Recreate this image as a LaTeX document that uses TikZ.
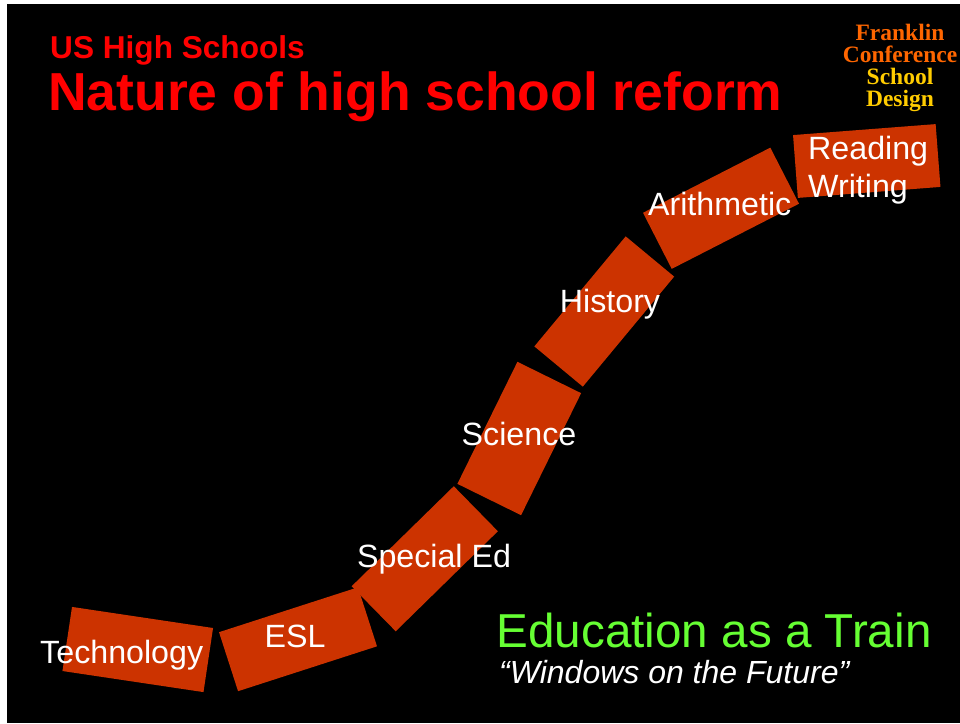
\documentclass[tikz,border=0pt]{standalone}
\usepackage{fontspec}
\setmainfont{Liberation Sans}
\newfontfamily\serifbold{Liberation Serif}
\definecolor{carred}{RGB}{204,51,0}
\definecolor{titlered}{RGB}{255,0,0}
\definecolor{frorange}{RGB}{255,102,0}
\definecolor{frgold}{RGB}{255,204,0}
\definecolor{traingreen}{RGB}{102,255,51}
\tikzset{
	car/.style={fill=carred, minimum width=143pt, minimum height=63pt, inner sep=0pt},
	carlabel/.style={text=white, font=\fontsize{32.2}{38}\selectfont, anchor=base, inner sep=0pt},
	plain/.style={anchor=base west, inner sep=0pt},
}
\begin{document}
\begin{tikzpicture}[x=1pt, y=-1pt]
	\useasboundingbox (0,0) rectangle (960,723);
	\fill [black] (7,4) rectangle (960,723);

	\node (subtitle) [plain, text=titlered, font=\bfseries\fontsize{31.6}{36}\selectfont] at (50,58) {US High Schools};
	\node (title) [plain, text=titlered, font=\bfseries\fontsize{53.5}{64}\selectfont] at (48,110) {Nature of high school reform};
	\node (franklin) [anchor=base, align=center, inner sep=0pt, font=\serifbold\bfseries\fontsize{23.5}{22}\selectfont] at (900,106) {\textcolor{frorange}{Franklin}\\\textcolor{frorange}{Conference}\\\textcolor{frgold}{School}\\\textcolor{frgold}{Design}};

	\node (tech) [car, rotate=-8.5, minimum width=142.6pt, minimum height=64.8pt] at (137.75,649.5) {};
	\node (esl) [car, rotate=17.9, minimum width=146pt, minimum height=62pt] at (298,639.25) {};
	\node (sped) [car, rotate=44.4] at (424.75,558.75) {};
	\node (sci) [car, rotate=63.8, minimum width=136pt, minimum height=71pt] at (519.25,438.5) {};
	\node (hist) [car, rotate=50.3] at (604.25,311.5) {};
	\node (arith) [car, rotate=27.1] at (721,208.25) {};
	\node (read) [car, rotate=4.4] at (866.75,161) {};

	\node (techtxt) [carlabel] at (121.7,663) {Technology};
	\node (esltxt) [carlabel] at (295,647) {ESL};
	\node (spedtxt) [carlabel] at (434,567) {Special Ed};
	\node (scitxt) [carlabel] at (519,445) {Science};
	\node (histtxt) [carlabel] at (610,312) {History};
	\node (arithtxt) [carlabel] at (719.7,215) {Arithmetic};
	\node (readtxt) [carlabel, anchor=base west, align=left] at (808,197) {Reading\\Writing};

	\node (train) [plain, text=traingreen, font=\fontsize{47.6}{56}\selectfont] at (496.5,647) {Education as a Train};
	\node (windows) [plain, text=white, font=\itshape\fontsize{32}{36}\selectfont] at (499,683) {“Windows on the Future”};
\end{tikzpicture}
\end{document}
